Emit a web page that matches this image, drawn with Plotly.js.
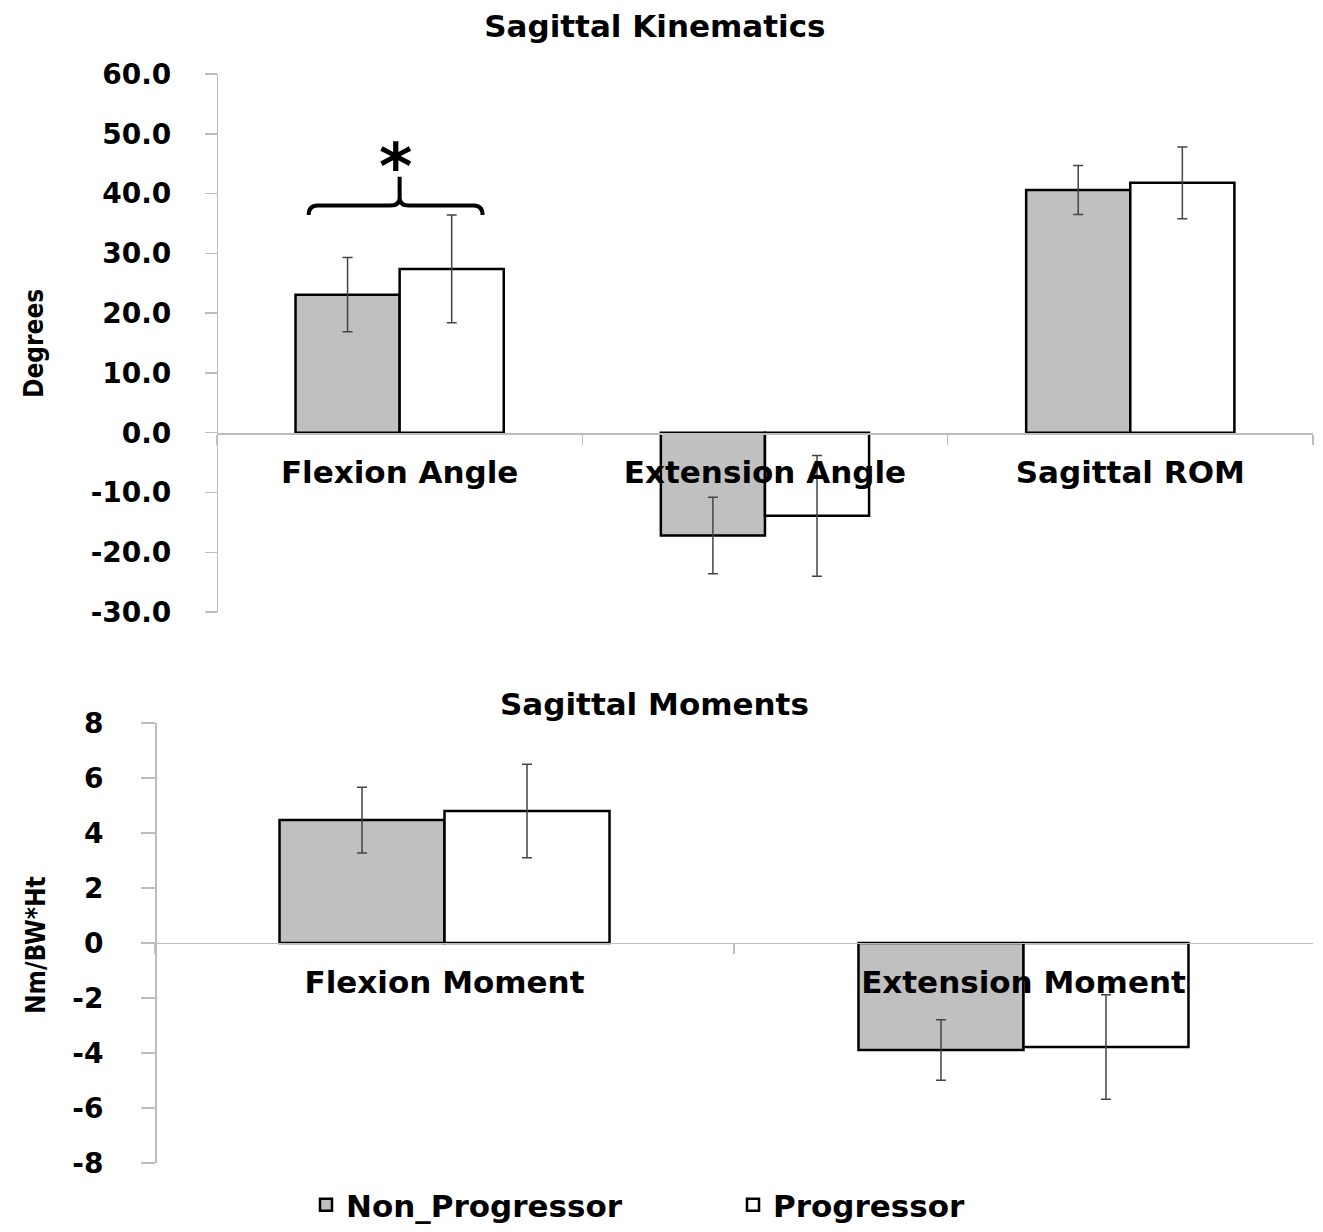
<!DOCTYPE html>
<html>
<head>
<meta charset="utf-8">
<script src="https://cdn.plot.ly/plotly-3.0.1.min.js"></script>
<style>
  html, body { margin: 0; padding: 0; background: #ffffff; }
  #chart { width: 1323px; height: 1232px; }
</style>
</head>
<body>
<div id="chart"></div>
<script>
// ---- Data ----
const seriesNames = ['Non_Progressor', 'Progressor'];

const kinCategories = ['Flexion Angle', 'Extension Angle', 'Sagittal ROM'];
const kinNonProg = [23.1, -17.2, 40.6];
const kinNonProgErr = [6.2, 6.4, 4.1];
const kinProg = [27.4, -13.9, 41.8];
const kinProgErr = [9.0, 10.1, 6.0];
const kinTickVals = [60, 50, 40, 30, 20, 10, 0, -10, -20, -30];
const kinTickText = ['60.0', '50.0', '40.0', '30.0', '20.0', '10.0', '0.0', '-10.0', '-20.0', '-30.0'];

const momCategories = ['Flexion Moment', 'Extension Moment'];
const momNonProg = [4.47, -3.89];
const momNonProgErr = [1.2, 1.1];
const momProg = [4.8, -3.78];
const momProgErr = [1.7, 1.9];
const momTickVals = [8, 6, 4, 2, 0, -2, -4, -6, -8];
const momTickText = ['8', '6', '4', '2', '0', '-2', '-4', '-6', '-8'];

// ---- Styles ----
const FONT = 'DejaVu Sans, Verdana, sans-serif';
const NARROW = 'Liberation Sans Narrow, DejaVu Sans Condensed, Liberation Sans, sans-serif';
const GREY = '#c0c0c0';
const AXIS = '#bdbdbd';
const ERR = '#444444';

function barTrace(name, x, y, err, color, xa, ya, showlegend) {
  return {
    type: 'bar', name: name, x: x, y: y,
    xaxis: xa, yaxis: ya, showlegend: showlegend, legendgroup: name,
    marker: { color: color, line: { color: '#000000', width: 2.5 } },
    error_y: { type: 'data', array: err, visible: true, color: ERR, thickness: 1.5, width: 5 }
  };
}

const data = [
  barTrace(seriesNames[0], kinCategories, kinNonProg, kinNonProgErr, GREY, 'x', 'y', true),
  barTrace(seriesNames[1], kinCategories, kinProg, kinProgErr, '#ffffff', 'x', 'y', true),
  barTrace(seriesNames[0], momCategories, momNonProg, momNonProgErr, GREY, 'x2', 'y2', false),
  barTrace(seriesNames[1], momCategories, momProg, momProgErr, '#ffffff', 'x2', 'y2', false)
];

const tickFont = { family: FONT, size: 28, color: '#000000', weight: 'bold' };
const catFont = { family: FONT, size: 31, color: '#000000', weight: 'bold' };

function xAxis(domain, pos) {
  return {
    domain: domain, anchor: 'free', position: pos,
    type: 'category', showline: true, linecolor: AXIS, linewidth: 1.5,
    ticks: 'outside', tickson: 'boundaries', ticklen: 10, tickcolor: AXIS, tickwidth: 1.5,
    showgrid: false, zeroline: false, tickfont: catFont, ticklabelstandoff: 11,
    fixedrange: true
  };
}
function yAxis(domain, range, vals, text, pos, ticklen, standoff) {
  return {
    domain: domain, anchor: 'free', position: pos, range: range, tickmode: 'array',
    tickvals: vals, ticktext: text, showline: true, linecolor: AXIS, linewidth: 1.5,
    ticks: 'outside', ticklen: ticklen, tickcolor: AXIS, tickwidth: 1.5,
    showgrid: false, zeroline: false, tickfont: tickFont, ticklabelstandoff: standoff,
    fixedrange: true
  };
}

const layout = {
  width: 1323, height: 1232,
  margin: { l: 0, r: 0, t: 0, b: 0, autoexpand: false },
  paper_bgcolor: '#ffffff', plot_bgcolor: 'rgba(0,0,0,0)',
  barmode: 'group', bargap: 0.43, bargroupgap: 0,
  title: {
    text: 'Sagittal Kinematics', x: 0.495, xanchor: 'center',
    y: 1 - 26 / 1232, yanchor: 'middle', yref: 'paper',
    font: { family: FONT, size: 31, color: '#000000', weight: 'bold' }
  },
  xaxis: xAxis([0.164, 0.9924], 0.6485),
  yaxis: yAxis([0.5032, 0.9399], [-30, 60], kinTickVals, kinTickText, 0.164, 12, 28),
  xaxis2: xAxis([0.1172, 0.9924], 0.2346),
  yaxis2: yAxis([0.0560, 0.4131], [-8, 8], momTickVals, momTickText, 0.1172, 14, 32),
  legend: {
    orientation: 'h', x: 306 / 1323, xanchor: 'left', y: 0, yanchor: 'bottom',
    entrywidth: 382, entrywidthmode: 'pixels',
    font: { family: FONT, size: 31, color: '#000000', weight: 'bold' },
    traceorder: 'normal', itemclick: false, itemdoubleclick: false
  },
  annotations: [
    {
      text: 'Sagittal Moments', xref: 'paper', yref: 'paper',
      x: 0.495, y: 1 - 704 / 1232, xanchor: 'center', yanchor: 'middle', showarrow: false,
      font: { family: FONT, size: 31, color: '#000000', weight: 'bold' }
    },
    {
      text: 'Degrees', xref: 'paper', yref: 'paper', textangle: -90,
      x: 34 / 1323, y: 1 - 344 / 1232, xanchor: 'center', yanchor: 'middle', showarrow: false,
      font: { family: NARROW, size: 26, color: '#000000', weight: 'bold' }
    },
    {
      text: 'Nm/BW*Ht', xref: 'paper', yref: 'paper', textangle: -90,
      x: 36 / 1323, y: 1 - 945 / 1232, xanchor: 'center', yanchor: 'middle', showarrow: false,
      font: { family: NARROW, size: 26, color: '#000000', weight: 'bold' }
    },
    {
      text: '*', xref: 'x', yref: 'y', x: -0.01, y: 46.5,
      xanchor: 'center', yanchor: 'middle', showarrow: false, yshift: -12,
      font: { family: FONT, size: 64, color: '#000000', weight: 'bold' }
    }
  ],
  shapes: [
    {
      type: 'path', xref: 'x', yref: 'y',
      path: 'M-0.249,36.4 Q-0.249,38 -0.225,38 L-0.025,38 Q0,38 0,39.3 L0,42.8 M0,39.3 Q0,38 0.025,38 L0.203,38 Q0.227,38 0.227,36.4',
      line: { color: '#000000', width: 4 }
    }
  ]
};

Plotly.newPlot('chart', data, layout, { displayModeBar: false, staticPlot: true });
</script>
</body>
</html>
